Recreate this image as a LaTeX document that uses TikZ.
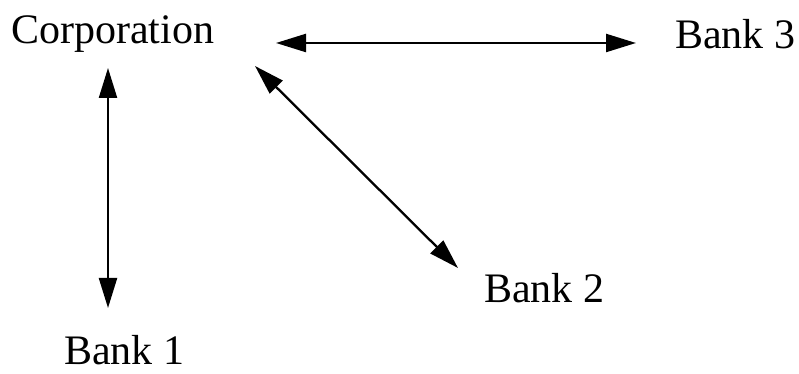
\documentclass[tikz,border=0pt]{standalone}
\usepackage{fontspec}
\setmainfont{Liberation Serif}
\usetikzlibrary{arrows.meta}
\begin{document}
\begin{tikzpicture}[x=1pt,y=1pt,
  lbl/.style={anchor=base west,inner sep=0pt,font=\fontsize{42}{48}\selectfont},
  link/.style={line width=2.3pt,{Triangle[length=30pt,width=18pt]}-{Triangle[length=30pt,width=18pt]}}]
\useasboundingbox (0,0) rectangle (799,374);
\node[lbl] (corp) at (11,330) {Corporation};
\node[lbl] (bank3) at (675,325) {Bank 3};
\node[lbl] (bank2) at (484,71) {Bank 2};
\node[lbl] (bank1) at (64,9) {Bank 1};
\coordinate (h1) at (276,331);
\coordinate (h2) at (636,331);
\coordinate (v1) at (108,306);
\coordinate (v2) at (108,66);
\coordinate (d1) at (255,308);
\coordinate (d2) at (458,106);
\draw[link] (h1) -- (h2);
\draw[link] (v1) -- (v2);
\draw[link] (d1) -- (d2);
\end{tikzpicture}
\end{document}
